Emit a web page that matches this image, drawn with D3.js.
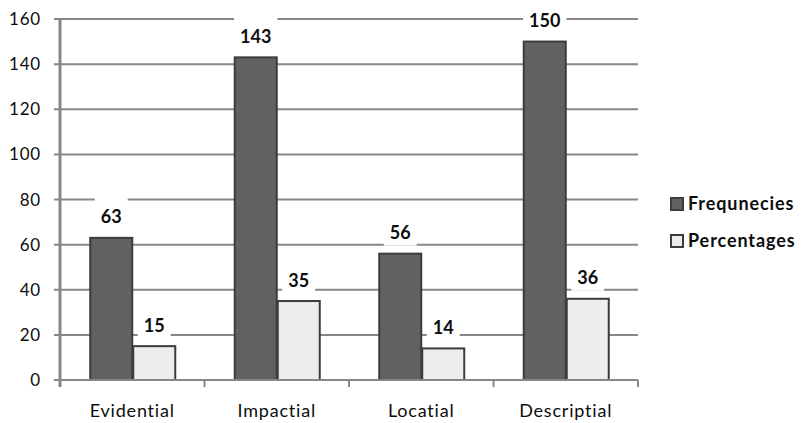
<!DOCTYPE html>
<html>
<head>
<meta charset="utf-8">
<script src="https://cdn.jsdelivr.net/npm/d3@7"></script>
<style>
  html, body { margin: 0; padding: 0; background: #fff; }
  svg { display: block; font-family: Lato, "Open Sans", sans-serif; }
</style>
</head>
<body>
<svg id="chart" width="801" height="423"></svg>
<script>
// Category names along the x axis
const categories = ["Evidential", "Impactial", "Locatial", "Descriptial"];
// Series names and their values per category
const seriesNames = ["Frequnecies", "Percentages"];
const frequencies = [63, 143, 56, 150];
const percentages = [15, 35, 14, 36];
// Y axis ticks
const yTicks = [0, 20, 40, 60, 80, 100, 120, 140, 160];

const seriesValues = [frequencies, percentages];
const fills = ["#616161", "#ededed"];

const svg = d3.select("#chart");
const plot = { left: 60, right: 638, top: 19, bottom: 380 };

const x = d3.scaleBand().domain(categories).range([plot.left, plot.right]).paddingInner(0).paddingOuter(0);
const xInner = d3.scaleBand().domain(seriesNames).range([0, x.bandwidth()]).paddingInner(0).paddingOuter(0.68);
const y = d3.scaleLinear().domain([0, 160]).range([plot.bottom, plot.top]);

const gridColor = "#878787";
const textColor = "#0d0d0d";

// Horizontal gridlines with short tick stubs on the left
svg.append("g").selectAll("line")
  .data(yTicks)
  .join("line")
  .attr("x1", plot.left - 6)
  .attr("x2", plot.right)
  .attr("y1", d => y(d))
  .attr("y2", d => y(d))
  .attr("stroke", gridColor)
  .attr("stroke-width", 2);

// Y tick labels
svg.append("g").selectAll("text")
  .data(yTicks)
  .join("text")
  .attr("x", 41)
  .attr("y", d => y(d))
  .attr("dy", "0.36em")
  .attr("text-anchor", "end")
  .attr("font-size", 17)
  .attr("letter-spacing", 0.8)
  .attr("fill", textColor)
  .text(d => d);

// X tick marks at band boundaries
const bounds = categories.map(c => x(c)).concat([plot.right]);
svg.append("g").selectAll("line")
  .data(bounds)
  .join("line")
  .attr("x1", d => d)
  .attr("x2", d => d)
  .attr("y1", plot.bottom)
  .attr("y2", plot.bottom + 7)
  .attr("stroke", gridColor)
  .attr("stroke-width", 2);

// Bars
const groups = svg.append("g").selectAll("g")
  .data(categories)
  .join("g")
  .attr("transform", c => `translate(${x(c)},0)`);

const barData = (c, i) => seriesNames.map((s, k) => ({ s, k, v: seriesValues[k][i] }));

groups.selectAll("rect")
  .data(barData)
  .join("rect")
  .attr("x", d => xInner(d.s) + 1)
  .attr("width", xInner.bandwidth() - 1)
  .attr("y", d => y(d.v))
  .attr("height", d => plot.bottom - y(d.v))
  .attr("fill", d => fills[d.k])
  .attr("stroke", "#3c3c3c")
  .attr("stroke-width", 2);

// Value labels on white boxes above each bar
const labels = groups.selectAll("g.lbl")
  .data(barData)
  .join("g")
  .attr("class", "lbl");

labels.append("text")
  .attr("x", d => xInner(d.s) + xInner.bandwidth() / 2 + 0.5)
  .attr("y", d => y(d.v) - 21)
  .attr("dy", "0.36em")
  .attr("text-anchor", "middle")
  .attr("font-size", 18)
  .attr("font-weight", "bold")
  .attr("fill", textColor)
  .text(d => d.v)
  .each(function () {
    const bb = this.getBBox();
    d3.select(this.parentNode).insert("rect", "text")
      .attr("x", bb.x - 6)
      .attr("y", +d3.select(this).attr("y") - 20)
      .attr("width", bb.width + 12)
      .attr("height", 33)
      .attr("fill", "#fff");
  });

// Y axis line
svg.append("line")
  .attr("x1", plot.left).attr("x2", plot.left)
  .attr("y1", plot.top).attr("y2", plot.bottom + 7)
  .attr("stroke", gridColor)
  .attr("stroke-width", 3);

// X axis line
svg.append("line")
  .attr("x1", plot.left - 6).attr("x2", plot.right)
  .attr("y1", plot.bottom).attr("y2", plot.bottom)
  .attr("stroke", gridColor)
  .attr("stroke-width", 2);

// Category labels
svg.append("g").selectAll("text")
  .data(categories)
  .join("text")
  .attr("x", c => x(c) + x.bandwidth() / 2)
  .attr("y", 417)
  .attr("text-anchor", "middle")
  .attr("font-size", 18)
  .attr("letter-spacing", 0.8)
  .attr("fill", textColor)
  .text(c => c);

// Legend
const legend = svg.append("g").selectAll("g")
  .data(seriesNames)
  .join("g")
  .attr("transform", (s, k) => `translate(671,${204 + k * 37})`);

legend.append("rect")
  .attr("x", 0).attr("y", -6)
  .attr("width", 12).attr("height", 12)
  .attr("fill", (s, k) => fills[k])
  .attr("stroke", "#3c3c3c")
  .attr("stroke-width", 2);

legend.append("text")
  .attr("x", 17)
  .attr("y", 0)
  .attr("dy", "0.36em")
  .attr("font-size", 18)
  .attr("font-weight", "bold")
  .attr("letter-spacing", 0.9)
  .attr("fill", textColor)
  .text(s => s);
</script>
</body>
</html>
